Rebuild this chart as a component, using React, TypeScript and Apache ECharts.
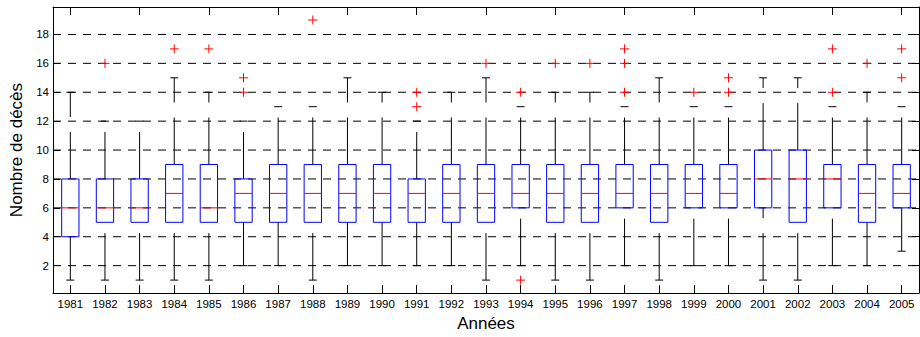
import React, { useEffect, useRef } from "react";
import * as echarts from "echarts";

const years = [
  "1981", "1982", "1983", "1984", "1985", "1986", "1987", "1988", "1989", "1990",
  "1991", "1992", "1993", "1994", "1995", "1996", "1997", "1998", "1999", "2000",
  "2001", "2002", "2003", "2004", "2005",
];
const lowWhisker = [1, 1, 1, 1, 1, 2, 2, 1, 2, 2, 2, 2, 1, 2, 1, 1, 2, 1, 2, 2, 1, 1, 2, 2, 3];
const q1 = [4, 5, 5, 5, 5, 5, 5, 5, 5, 5, 5, 5, 5, 6, 5, 5, 6, 5, 6, 6, 6, 5, 6, 5, 6];
const median = [6, 6, 6, 7, 6, 7, 7, 7, 7, 7, 7, 7, 7, 7, 7, 7, 7, 7, 7, 7, 8, 8, 8, 7, 7];
const q3 = [8, 8, 8, 9, 9, 8, 9, 9, 9, 9, 8, 9, 9, 9, 9, 9, 9, 9, 9, 9, 10, 10, 9, 9, 9];
const highWhisker = [14, 12, 12, 15, 14, 12, 13, 13, 15, 14, 12, 14, 15, 13, 14, 14, 13, 15, 13, 13, 15, 15, 13, 14, 13];
const outliers: number[][] = [
  [], [16], [], [17], [17], [14, 15], [], [19], [], [],
  [13, 14], [], [16], [1, 14], [16], [16], [14, 16, 17], [], [14], [14, 15],
  [], [], [14, 17], [16], [15, 17],
];
const yTicks = [2, 4, 6, 8, 10, 12, 14, 16, 18];
const yMin = 0.1;
const yMax = 19.9;

const FONT = "'Liberation Sans', Arial, Helvetica, sans-serif";

export default function App() {
  const ref = useRef<HTMLDivElement>(null);

  useEffect(() => {
    if (!ref.current) return;
    const chart = echarts.init(ref.current, undefined, { renderer: "svg" });

    const boxData = years.map((_, i) => [i, lowWhisker[i], q1[i], median[i], q3[i], highWhisker[i]]);
    const outlierData: number[][] = [];
    outliers.forEach((arr, i) => arr.forEach((v) => outlierData.push([i, v])));
    const gridData = yTicks.map((v) => [0, v]);

    const option: any = {
      animation: false,
      backgroundColor: "#fff",
      grid: { left: 53, right: 1, top: 7, bottom: 42, containLabel: false },
      xAxis: [
        {
          type: "category",
          data: years,
          position: "bottom",
          boundaryGap: true,
          name: "Années",
          nameLocation: "middle",
          nameGap: 19,
          nameTextStyle: { fontFamily: FONT, fontSize: 17, color: "#000" },
          axisLine: { show: true, lineStyle: { color: "#000", width: 1 } },
          axisTick: { show: true, inside: true, alignWithLabel: true, length: 8, lineStyle: { color: "#000" } },
          axisLabel: { show: true, interval: 0, margin: 5, fontFamily: FONT, fontSize: 11.5, color: "#000" },
          splitLine: { show: false },
        },
        {
          type: "category",
          data: years,
          position: "top",
          boundaryGap: true,
          axisLine: { show: true, lineStyle: { color: "#000", width: 1 } },
          axisTick: { show: true, inside: true, alignWithLabel: true, length: 8, lineStyle: { color: "#000" } },
          axisLabel: { show: false },
          splitLine: { show: false },
        },
      ],
      yAxis: [
        {
          type: "value",
          min: yMin,
          max: yMax,
          position: "left",
          name: "Nombre de décès",
          nameLocation: "middle",
          nameGap: 28,
          nameTextStyle: { fontFamily: FONT, fontSize: 17, color: "#000" },
          axisLine: { show: true, lineStyle: { color: "#000", width: 1 } },
          axisTick: { show: true, inside: true, length: 7, customValues: yTicks, lineStyle: { color: "#000" } },
          axisLabel: { show: true, margin: 4, customValues: yTicks, fontFamily: FONT, fontSize: 11.5, color: "#000" },
          splitLine: { show: false },
        },
        {
          type: "value",
          min: yMin,
          max: yMax,
          position: "right",
          axisLine: { show: true, lineStyle: { color: "#000", width: 1 } },
          axisTick: { show: true, inside: true, length: 7, customValues: yTicks, lineStyle: { color: "#000" } },
          axisLabel: { show: false, customValues: yTicks },
          splitLine: { show: false },
        },
      ],
      series: [
        {
          type: "custom",
          name: "grid",
          xAxisIndex: 0,
          yAxisIndex: 0,
          silent: true,
          data: gridData,
          encode: { x: 0, y: 1 },
          renderItem: (params: any, api: any) => {
            const cs = params.coordSys;
            const y = api.coord([0, api.value(1)])[1];
            return {
              type: "line",
              shape: { x1: cs.x, y1: y, x2: cs.x + cs.width, y2: y },
              style: { stroke: "#000", lineWidth: 1, lineDash: [8, 7] },
            };
          },
        },
        {
          type: "custom",
          name: "boxes",
          xAxisIndex: 0,
          yAxisIndex: 0,
          silent: true,
          data: boxData,
          encode: { x: 0, y: [1, 2, 3, 4, 5] },
          renderItem: (params: any, api: any) => {
            const i = api.value(0);
            const pLow = api.coord([i, api.value(1)]);
            const pQ1 = api.coord([i, api.value(2)]);
            const pMed = api.coord([i, api.value(3)]);
            const pQ3 = api.coord([i, api.value(4)]);
            const pHigh = api.coord([i, api.value(5)]);
            const bw = api.size([1, 0])[0] * 0.5;
            const x = pLow[0];
            const capW = 4;
            return {
              type: "group",
              children: [
                {
                  type: "line",
                  shape: { x1: x, y1: pQ3[1], x2: x, y2: pHigh[1] },
                  style: { stroke: "#000", lineWidth: 1, lineDash: [47, 15] },
                },
                {
                  type: "line",
                  shape: { x1: x, y1: pLow[1], x2: x, y2: pQ1[1] },
                  style: { stroke: "#000", lineWidth: 1, lineDash: [47, 15] },
                },
                {
                  type: "line",
                  shape: { x1: x - capW, y1: pHigh[1], x2: x + capW, y2: pHigh[1] },
                  style: { stroke: "#000", lineWidth: 1 },
                },
                {
                  type: "line",
                  shape: { x1: x - capW, y1: pLow[1], x2: x + capW, y2: pLow[1] },
                  style: { stroke: "#000", lineWidth: 1 },
                },
                {
                  type: "rect",
                  shape: { x: x - bw / 2, y: pQ3[1], width: bw, height: pQ1[1] - pQ3[1] },
                  style: { fill: "none", stroke: "#0000ff", lineWidth: 1 },
                },
                {
                  type: "line",
                  shape: { x1: x - bw / 2, y1: pMed[1], x2: x + bw / 2, y2: pMed[1] },
                  style: { stroke: "#ff0000", lineWidth: 1 },
                },
              ],
            };
          },
        },
        {
          type: "custom",
          name: "outliers",
          xAxisIndex: 0,
          yAxisIndex: 0,
          silent: true,
          data: outlierData,
          encode: { x: 0, y: 1 },
          renderItem: (params: any, api: any) => {
            const p = api.coord([api.value(0), api.value(1)]);
            const h = 4.5;
            return {
              type: "group",
              children: [
                {
                  type: "line",
                  shape: { x1: p[0] - h, y1: p[1], x2: p[0] + h, y2: p[1] },
                  style: { stroke: "#ff0000", lineWidth: 1 },
                },
                {
                  type: "line",
                  shape: { x1: p[0], y1: p[1] - h, x2: p[0], y2: p[1] + h },
                  style: { stroke: "#ff0000", lineWidth: 1 },
                },
              ],
            };
          },
        },
      ],
    };

    chart.setOption(option);
    return () => {
      chart.dispose();
    };
  }, []);

  return (
    <div
      ref={ref}
      style={{ position: "absolute", left: 0, top: 0, width: 920, height: 337, background: "#fff" }}
    />
  );
}
